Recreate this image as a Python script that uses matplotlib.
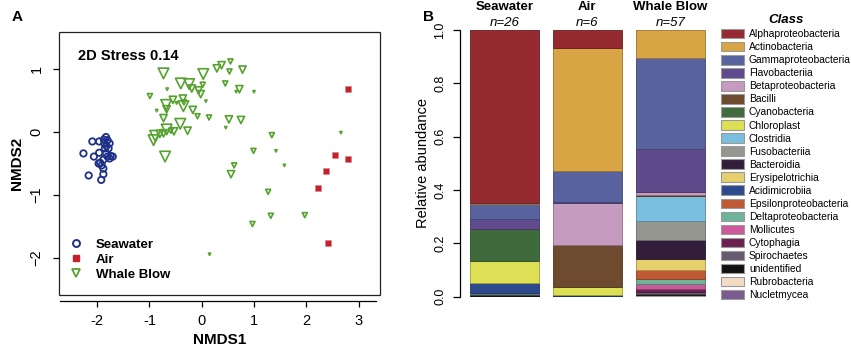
import numpy as np
import matplotlib
matplotlib.use("Agg")
import matplotlib.pyplot as plt
from matplotlib.patches import Patch, Rectangle
from matplotlib.lines import Line2D
from matplotlib.colors import to_rgb

plt.rcParams['font.family'] = ['Liberation Sans', 'DejaVu Sans']

# ---- panel A: NMDS ordination ----
sea_x = [-2.09, -1.96, -2.26, -2.06, -1.96, -2.16, -1.92, -1.88, -1.97, -1.91,
         -1.88, -1.83, -1.80, -1.86, -1.76, -1.82, -1.85, -1.80, -1.74, -1.76,
         -1.70, -1.87, -1.78, -1.83, -1.88, -1.94]
sea_y = [-0.15, -0.15, -0.34, -0.39, -0.33, -0.69, -0.76, -0.67, -0.50, -0.53,
         -0.58, -0.08, -0.13, -0.18, -0.18, -0.22, -0.26, -0.39, -0.38, -0.42,
         -0.39, -0.12, -0.26, -0.34, -0.44, -0.49]

air_x = [2.79, 2.54, 2.80, 2.38, 2.23, 2.42]
air_y = [0.68, -0.37, -0.43, -0.62, -0.89, -1.76]

blow_x = [-0.73, 0.03, -0.40, -0.24, -0.19, -0.06, -0.02, 0.02, 0.29, 0.38,
          0.55, 0.53, 0.78, 0.45, 0.72, 0.66, 1.00, -0.66, -0.99, -0.55,
          -0.68, -0.67, -0.36, -0.35, -0.48, -0.86, -0.17, 0.08, -0.08, 0.14,
          -0.73, 0.52, 0.75, 0.46, -0.41, -0.67, -0.27, -0.53, -0.73, -0.89,
          -0.92, -0.70, 1.34, 0.99, 1.42, 1.58, 0.62, 0.56, 1.27, 1.32,
          1.97, 2.66, 0.97, 0.15, -0.80, -0.34, -0.59]
blow_y = [0.93, 0.92, 0.77, 0.76, 0.69, 0.66, 0.60, 0.75, 1.01, 1.06,
          1.12, 0.96, 0.99, 0.77, 0.68, 0.64, 0.64, 0.68, 0.57, 0.51,
          0.43, 0.36, 0.53, 0.41, 0.46, 0.34, 0.35, 0.49, 0.25, 0.23,
          0.22, 0.20, 0.19, 0.07, 0.13, 0.04, 0.02, 0.01, -0.02, -0.06,
          -0.13, -0.39, -0.05, -0.30, -0.30, -0.53, -0.53, -0.67, -0.95, -1.33,
          -1.32, -0.01, -1.46, -1.94, -0.03, 0.47, 0.02]
# relative symbol weight (4 = largest, 1 = dot)
blow_w = [4, 4, 4, 4, 3, 3, 3, 2, 3, 3,
          2, 2, 3, 2, 3, 1, 1, 1, 2, 3,
          4, 3, 3, 4, 1, 1, 3, 1, 2, 2,
          3, 3, 3, 1, 4, 4, 3, 3, 3, 4,
          4, 4, 2, 2, 1, 1, 2, 3, 2, 2,
          2, 1, 2, 1, 3, 2, 2]

# ---- panel B: class composition ----
groups = ['Seawater', 'Air', 'Whale Blow']
group_n = ['n=26', 'n=6', 'n=57']
classes = ['Alphaproteobacteria', 'Actinobacteria', 'Gammaproteobacteria',
           'Flavobacteriia', 'Betaproteobacteria', 'Bacilli', 'Cyanobacteria',
           'Chloroplast', 'Clostridia', 'Fusobacteriia', 'Bacteroidia',
           'Erysipelotrichia', 'Acidimicrobiia', 'Epsilonproteobacteria',
           'Deltaproteobacteria', 'Mollicutes', 'Cytophagia', 'Spirochaetes',
           'unidentified', 'Rubrobacteria', 'Nucletmycea']
class_colors = ['#952a30', '#d9a443', '#58629f', '#5f4a8c', '#c69bc0',
                '#6e4a2e', '#3e6a3c', '#dde055', '#7abfdd', '#959690',
                '#321e3b', '#e6d06e', '#2d4a8c', '#c05a35', '#6db49a',
                '#cc5a9a', '#6b2150', '#665a70', '#111111', '#f2dcc4',
                '#7a5a90']
seawater_ab = [0.647, 0.007, 0.055, 0.038, 0, 0, 0.119, 0.081, 0, 0, 0, 0,
               0.041, 0, 0.002, 0, 0, 0.002, 0.008, 0, 0]
air_ab = [0.066, 0.463, 0.115, 0.006, 0.156, 0.159, 0, 0.029, 0, 0, 0, 0,
          0.003, 0, 0, 0, 0, 0, 0.003, 0, 0]
blow_ab = [0, 0.106, 0.340, 0.160, 0.013, 0.004, 0, 0, 0.094, 0.069, 0.071,
           0.044, 0, 0.031, 0.020, 0.020, 0.010, 0.008, 0.004, 0.003, 0.003]

W, H = 851, 347
fig = plt.figure(figsize=(W / 100, H / 100), dpi=100)

# panel A
axA = fig.add_axes([59 / W, 1 - 295 / H, 321 / W, 263 / H])
sea_col = '#1f3088'
air_col = '#c4202b'
blow_col = '#56a22e'
axA.scatter(sea_x, sea_y, s=4.6 ** 2, marker='o', facecolors='none',
            edgecolors=sea_col, linewidths=1.3, zorder=3)
axA.scatter(air_x, air_y, s=4.0 ** 2, marker='s', color=air_col,
            edgecolors='#e08080', linewidths=0.4, zorder=3)
size_map = {4: 7.6, 3: 5.2, 2: 3.6, 1: 1.6}
blow_s = [size_map[w] ** 2 for w in blow_w]
axA.scatter(blow_x, blow_y, s=blow_s, marker='v', facecolors='none',
            edgecolors=blow_col, linewidths=1.2, zorder=3)

axA.set_xlim(-2.727, 3.407)
axA.set_ylim(-2.587, 1.587)
for sp in axA.spines.values():
    sp.set_visible(False)
axA.add_patch(Rectangle((0, 0), 1, 1, transform=axA.transAxes, fill=False,
                        lw=0.9, ec='#222222', clip_on=False))
axA.spines['bottom'].set_visible(True)
axA.spines['bottom'].set_position(('outward', 4))
axA.spines['bottom'].set_bounds(-2.7, 3.33)
axA.spines['bottom'].set_linewidth(0.9)
axA.set_xticks([-2, -1, 0, 1, 2, 3])
axA.set_xticklabels(['-2', '-1', '0', '1', '2', '3'])
axA.set_yticks([-2, -1, 0, 1])
axA.set_yticklabels(['\u22122', '\u22121', '0', '1'], rotation=90, va='center')
axA.tick_params(axis='x', length=4, width=0.9, pad=6, labelsize=10.5)
axA.tick_params(axis='y', length=4, width=0.9, pad=7, labelsize=10.5)
axA.set_xlabel('NMDS1', fontsize=11, fontweight='bold', labelpad=3)
axA.set_ylabel('NMDS2', fontsize=11, fontweight='bold', labelpad=4)
axA.text(0.06, 0.91, '2D Stress 0.14', transform=axA.transAxes,
         fontsize=10.5, fontweight='bold', va='center')
handlesA = [
    Line2D([], [], ls='none', marker='o', ms=5, mfc='none', mec=sea_col, mew=1.4),
    Line2D([], [], ls='none', marker='s', ms=4.5, color=air_col),
    Line2D([], [], ls='none', marker='v', ms=6, mfc='none', mec=blow_col, mew=1.3),
]
axA.legend(handlesA, ['Seawater', 'Air', 'Whale Blow'], loc='lower left',
           bbox_to_anchor=(0.0, 0.02), frameon=False,
           prop={'weight': 'bold', 'size': 9.5}, handlelength=1.2,
           handletextpad=0.9, labelspacing=0.2, borderpad=0.2)
fig.text(12 / W, 1 - 17 / H, 'A', fontsize=11, fontweight='bold', va='center')

# panel B
axB = fig.add_axes([460 / W, 1 - 296.7 / H, 246 / W, 266.7 / H])
xpos = np.arange(len(groups))
abund = [seawater_ab, air_ab, blow_ab]
for gi in range(len(groups)):
    bottom = 0.0
    for ci in reversed(range(len(classes))):
        v = abund[gi][ci]
        if v <= 0:
            continue
        c = np.array(to_rgb(class_colors[ci]))
        axB.bar(xpos[gi], v, bottom=bottom, width=0.825, color=c,
                edgecolor=c * 0.7, linewidth=0.6)
        bottom += v
axB.set_xlim(-0.536, 2.43)
axB.set_ylim(0, 1)
for sp in ['top', 'right', 'bottom']:
    axB.spines[sp].set_visible(False)
axB.spines['left'].set_linewidth(0.9)
axB.set_xticks([])
axB.set_yticks([0, 0.2, 0.4, 0.6, 0.8, 1.0])
axB.set_yticklabels(['0.0', '0.2', '0.4', '0.6', '0.8', '1.0'], rotation=90,
                    va='center')
axB.tick_params(axis='y', length=5, width=0.9, pad=5, labelsize=9)
axB.set_ylabel('Relative abundance', fontsize=10.5, labelpad=3)
for gi, (g, n) in enumerate(zip(groups, group_n)):
    axB.text(xpos[gi], 1.086, g, transform=axB.get_xaxis_transform(),
             ha='center', va='center', fontsize=9.5, fontweight='bold')
    axB.text(xpos[gi], 1.026, n, transform=axB.get_xaxis_transform(),
             ha='center', va='center', fontsize=9.5, style='italic')
fig.text(423 / W, 1 - 17 / H, 'B', fontsize=11, fontweight='bold', va='center')

handlesB = [Patch(facecolor=c, edgecolor='#9a9a9a', linewidth=0.8)
            for c in class_colors]
leg = fig.legend(handlesB, classes, loc='upper left',
                 bbox_to_anchor=(716 / W, 1 - 9 / H), frameon=False,
                 fontsize=7.4, handlelength=2.2, handleheight=1.05,
                 handletextpad=0.5, labelspacing=0.27, borderpad=0,
                 title='Class', title_fontproperties={'weight': 'bold',
                                                      'style': 'italic',
                                                      'size': 9.5})

fig.savefig('out.png', dpi=100)
